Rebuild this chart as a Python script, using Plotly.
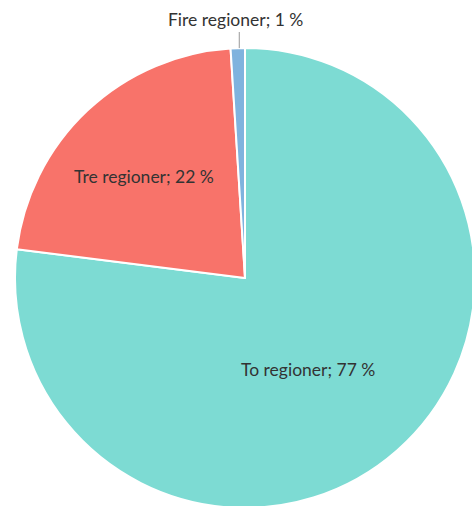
import math
import plotly.graph_objects as go

# Share of municipalities by number of regions
categories = ["To regioner", "Tre regioner", "Fire regioner"]
shares = [77, 22, 1]
colors = ["#7DDBD3", "#F8736A", "#7FB3DE"]

W, H = 480, 510
CX, CY, R = 245, 278, 230  # pie centre and radius in pixels

fig = go.Figure(
    go.Pie(
        labels=categories,
        values=shares,
        sort=False,
        direction="clockwise",
        rotation=0,
        textinfo="none",
        hoverinfo="label+percent",
        marker=dict(colors=colors, line=dict(color="white", width=2)),
        domain=dict(x=[(CX - R) / W, (CX + R) / W], y=[1 - (CY + R) / H, 1 - (CY - R) / H]),
        showlegend=False,
    )
)

def px(x, y):
    return x / W, 1 - y / H

# Label anchors (pixels) for each slice
label_pos = {"To regioner": (308, 369), "Tre regioner": (144, 176), "Fire regioner": (235, 20)}
font = dict(family="Lato, 'Open Sans', sans-serif", size=17.5, color="#333333")
for cat, val in zip(categories, shares):
    x, y = px(*label_pos[cat])
    fig.add_annotation(x=x, y=y, xref="paper", yref="paper", text=f"{cat}; {val} %",
                       showarrow=False, font=font, xanchor="center", yanchor="middle")

# Connector from the outside label to the smallest slice
total = sum(shares)
start = sum(shares[:-1]) / total * 360
mid = math.radians(start + shares[-1] / total * 360 / 2)
lx = CX + R * math.sin(mid)
ly = CY - R * math.cos(mid)
x0, y0 = px(lx + 1.5, 32)
x1, y1 = px(lx + 1.5, ly)
fig.add_shape(type="line", xref="paper", yref="paper", x0=x0, y0=y0, x1=x1, y1=y1,
              line=dict(color="#999999", width=1))

fig.update_layout(width=W, height=H, margin=dict(l=0, r=0, t=0, b=0),
                  paper_bgcolor="white", plot_bgcolor="white")

fig.write_html("out.html", post_script="document.documentElement.style.overflow='hidden';document.body.style.overflow='hidden';document.body.style.margin='0';")
